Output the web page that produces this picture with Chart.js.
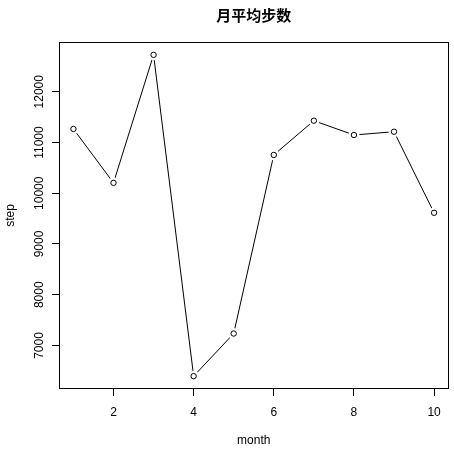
<!DOCTYPE html>
<html><head><meta charset="utf-8">
<script src="https://cdn.jsdelivr.net/npm/chart.js@4/dist/chart.umd.min.js"></script>
<style>html,body{margin:0;padding:0;background:#fff}#wrap{width:454px;height:463px}</style>
</head><body><div id="wrap"><canvas id="c" width="454" height="463"></canvas></div>
<script>
const titleText = '月平均步数';
const months = [1,2,3,4,5,6,7,8,9,10];
const steps = [11267,10205,12728,6395,7235,10755,11430,11148,11213,9615];
const xTicks = [2,4,6,8,10];
const yTicks = [7000,8000,9000,10000,11000,12000];
const xLabel = 'month';
const yLabel = 'step';

const pts = months.map((m,i)=>({x:m,y:steps[i]}));
function ext(a){const mn=Math.min(...a),mx=Math.max(...a),r=(mx-mn)*0.04;return [mn-r,mx+r];}
const [xmin,xmax]=ext(months), [ymin,ymax]=ext(steps);
const FONT='"Liberation Sans", Arial, sans-serif';

const boxPlugin={id:'box',
  afterDatasetsDraw(ch){const a=ch.chartArea,c=ch.ctx;c.save();c.strokeStyle='#000';c.lineWidth=1;
    c.strokeRect(Math.round(a.left)+0.5,Math.round(a.top)+0.5,Math.round(a.right-a.left)-1,Math.round(a.bottom-a.top)-1);c.restore();},
  afterDraw(ch){const a=ch.chartArea,c=ch.ctx;c.save();c.fillStyle='#000';c.font='bold 15px "Noto Sans CJK SC", sans-serif';
    c.textAlign='center';c.textBaseline='middle';c.fillText(titleText,(a.left+a.right)/2,15);c.restore();}
};

new Chart(document.getElementById('c'),{
  type:'scatter',
  data:{datasets:[
    {data:pts,showLine:true,borderColor:'#000',borderWidth:1,pointRadius:0,order:3},
    {data:pts,showLine:false,pointRadius:5.5,pointBorderWidth:0,pointBackgroundColor:'#fff',pointBorderColor:'#fff',order:2},
    {data:pts,showLine:false,pointRadius:2.7,pointBorderWidth:1,pointBorderColor:'#000',pointBackgroundColor:'#fff',order:1}
  ]},
  options:{responsive:false,animation:false,devicePixelRatio:1,
    layout:{padding:{left:0,right:5,top:42,bottom:0}},
    plugins:{legend:{display:false},tooltip:{enabled:false}},
    elements:{point:{hoverRadius:2.7}},
    scales:{
      x:{type:'linear',min:xmin,max:xmax,
        afterBuildTicks:s=>{s.ticks=xTicks.map(v=>({value:v}));},
        afterFit:s=>{s.height=74;},
        grid:{drawOnChartArea:false,tickLength:7,color:'#000',tickWidth:1},
        border:{display:false},
        ticks:{color:'#000',padding:9,maxRotation:0,font:{family:FONT,size:12}},
        title:{display:true,text:xLabel,color:'#000',font:{family:FONT,size:12},padding:{top:0,bottom:15}}},
      y:{type:'linear',min:ymin,max:ymax,
        afterBuildTicks:s=>{s.ticks=yTicks.map(v=>({value:v}));},
        afterFit:s=>{s.width=59;},
        grid:{drawOnChartArea:false,tickLength:7,color:'#000',tickWidth:1},
        border:{display:false},
        ticks:{color:'#000',padding:-4,minRotation:90,maxRotation:90,crossAlign:'center',font:{family:FONT,size:12},callback:v=>String(v)},
        title:{display:true,text:yLabel,color:'#000',font:{family:FONT,size:12},padding:{top:3,bottom:0}}}
    }
  },
  plugins:[boxPlugin]
});
</script></body></html>
